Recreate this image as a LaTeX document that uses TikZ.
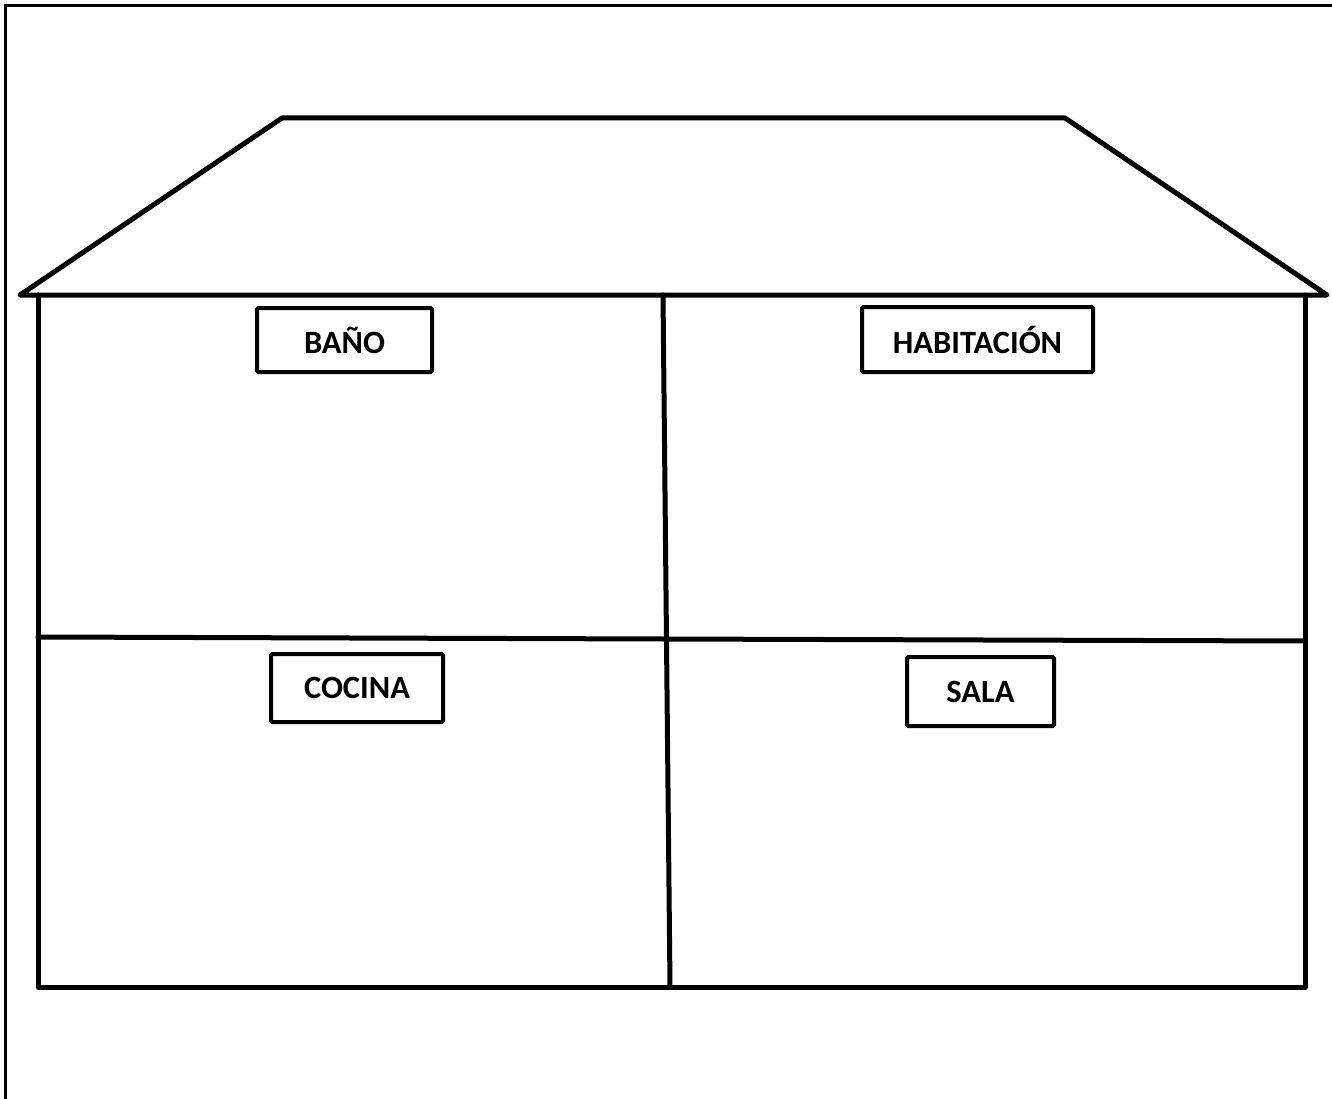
\documentclass[tikz,border=0pt]{standalone}
\usepackage{fontspec}
\setmainfont{Carlito}
\begin{document}
\begin{tikzpicture}[x=1pt,y=-1pt,
  wall/.style={line width=5pt,line join=round,line cap=round},
  frame/.style={line width=3pt},
  label/.style={draw,line width=4pt,rounded corners=1.5pt,inner sep=0pt,
    font=\fontsize{32.5}{38}\selectfont\bfseries}]
\useasboundingbox (0,0) rectangle (1332,1099);
% page frame (top and left edges only)
\draw[frame] (5,1099) -- (5,6) -- (1332,6);
% roof
\draw[wall] (20,295) -- (282,118) -- (1065,118) -- (1327,295) -- cycle;
% walls
\draw[wall] (38,295) -- (38,987) -- (1305,987) -- (1305,295);
% interior partitions
\draw[wall] (663,295) -- (670,987);
\draw[wall] (38,637) -- (665,639) -- (1305,641);
% room labels
\node[label,minimum width=175pt,minimum height=64pt] (bano) at (344.5,340) {BAÑO};
\node[label,minimum width=231pt,minimum height=65pt] (hab) at (977.5,339.5) {HABITACIÓN};
\node[label,minimum width=172pt,minimum height=68pt] (cocina) at (357,688) {COCINA};
\node[label,minimum width=147pt,minimum height=69pt] (sala) at (980.5,691.5) {SALA};
\end{tikzpicture}
\end{document}
